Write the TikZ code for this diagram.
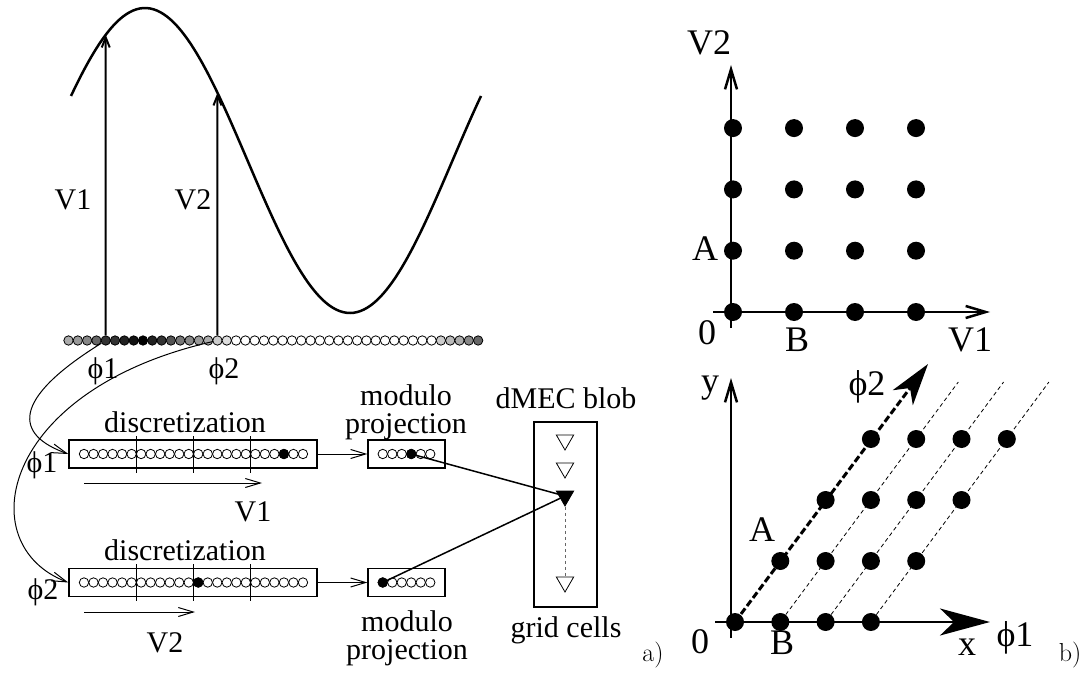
\documentclass[tikz,border=0pt]{standalone}
\usepackage{fontspec}
\newfontfamily\tms{Liberation Serif}
\usetikzlibrary{arrows.meta, shapes.geometric}

\begin{document}
\begin{tikzpicture}[x=1pt, y=-1pt,
  lbl/.style={font=\tms\fontsize{30}{28}\selectfont, inner sep=0pt, align=center},
  biglbl/.style={font=\tms\fontsize{36}{40}\selectfont, inner sep=0pt},
  tag/.style={font=\fontsize{26}{30}\selectfont, inner sep=0pt},
  bead/.style={circle, draw, line width=0.8pt, minimum size=9.4pt, inner sep=0pt, fill=white},
  dot/.style={circle, fill=black, minimum size=18pt, inner sep=0pt},
  segbox/.style={rectangle, draw, line width=1.3pt, inner sep=0pt, minimum height=28pt},
  tri/.style={regular polygon, regular polygon sides=3, shape border rotate=180,
    draw, line width=0.8pt, minimum size=20pt, inner sep=0pt},
  arr/.style={-{Straight Barb[length=15pt, width=9pt]}, line width=1pt},
  varr/.style={-{Straight Barb[length=10pt, width=8pt]}, line width=2pt},
  axarr/.style={-{Straight Barb[length=20pt, width=12pt]}, line width=2.5pt},
  bigarr/.style={-{Stealth[length=50pt, width=27pt, inset=14pt]}, line width=2.5pt}
]
\useasboundingbox (0,0) rectangle (1081,679);

% a) tuning curve and phase beads
\draw[line width=2.5pt] plot[domain=71:481, samples=120, smooth]
  (\x, {160.5-152.5*cos((\x-145)/410*360)});
\foreach \i/\g in {0/33,1/40,2/47,3/60,4/80,5/80,6/87,7/93,8/100,9/87,10/80,11/67,
    12/53,13/47,14/40,15/33,16/20,17/13,40/20,41/27,42/33,43/47,44/60}
  \node[bead, fill=black!\g] (b\i) at ({68.5+\i*9.31}, 340.5) {};
\foreach \i in {18,...,39}
  \node[bead] (b\i) at ({68.5+\i*9.31}, 340.5) {};
\coordinate (s1) at (105.74, {160.5-152.5*cos((105.74-145)/410*360)});
\coordinate (s2) at (217.46, {160.5-152.5*cos((217.46-145)/410*360)});
\draw[varr] (b4) -- (s1);
\draw[varr] (b16) -- (s2);
\node[lbl] (v1) at (73,200) {V1};
\node[lbl] (v2) at (193,200) {V2};
\node[lbl] (f1) at (103,371) {ϕ1};
\node[lbl] (f2) at (224,371) {ϕ2};

% discretization
\node[segbox, minimum width=248pt] (disc1) at (193,454) {};
\node[segbox, minimum width=248pt] (disc2) at (193,582.5) {};
\foreach \i in {0,...,23} {
  \node[bead] (p\i) at ({84+\i*9.52},454) {};
  \node[bead] (q\i) at ({84+\i*9.52},582.5) {};
}
\node[bead, fill=black] (pf) at (p21) {};
\node[bead, fill=black] (qf) at (q12) {};
\foreach \k in {1,2,3} {
  \draw[line width=0.8pt] ({84+(6*\k-0.5)*9.52},436) -- ++(0,37);
  \draw[line width=0.8pt] ({84+(6*\k-0.5)*9.52},564) -- ++(0,37);
}
\node[lbl] (dl1) at (185,422) {discretization};
\node[lbl] (dl2) at (185,550) {discretization};
\node[lbl] (g1) at (42,465) {ϕ1};
\node[lbl] (g2) at (43,592) {ϕ2};
\draw[arr] (b4) .. controls (10,400) and (15,435) .. (disc1.west);
\draw[arr] (b16) .. controls (0,390) and (-30,545) .. (disc2.west);

\coordinate (r1a) at (84,483);  \coordinate (r1b) at (262,483);
\coordinate (r2a) at (84,612);  \coordinate (r2b) at (195,612);
\draw[arr] (r1a) -- (r1b);
\draw[arr] (r2a) -- (r2b);
\node[lbl] (sv1) at (253,512) {V1};
\node[lbl] (sv2) at (165,643) {V2};

% modulo projection
\node[segbox, minimum width=77pt] (mod1) at (406.5,454) {};
\node[segbox, minimum width=77pt] (mod2) at (406.5,582.5) {};
\foreach \i in {0,...,5} {
  \node[bead] (m\i) at ({382.75+\i*9.5},454) {};
  \node[bead] (n\i) at ({382.75+\i*9.5},582.5) {};
}
\node[bead, fill=black] (mf) at (m3) {};
\node[bead, fill=black] (nf) at (n0) {};
\draw[arr] (disc1) -- (mod1);
\draw[arr] (disc2) -- (mod2);
\node[lbl] (ml1) at (406,412) {modulo\\projection};
\node[lbl] (ml2) at (407,638) {modulo\\projection};

% dMEC blob
\node[segbox, minimum width=63pt, minimum height=185pt] (blob) at (565.5,514.5) {};
\node[tri] (t1) at (565,440) {};
\node[tri] (t2) at (565,468) {};
\node[tri, fill=black] (t3) at (565,496) {};
\node[tri] (t4) at (565,582) {};
\draw[dashed, line width=0.5pt, black!60] (t3) -- (t4);
\draw[line width=1.5pt] (mf.center) -- (t3.center);
\draw[line width=1.5pt] (nf.center) -- (t3.center);
\node[lbl] (bl) at (566,398) {dMEC blob};
\node[lbl] (gc) at (566,630) {grid cells};
\node[tag] (ta) at (653,655) {a)};

% b) velocity lattice
\coordinate (ua) at (731,328);  \coordinate (ub) at (731,65);
\coordinate (uc) at (713,312);  \coordinate (ud) at (990,312);
\draw[axarr] (ua) -- (ub);
\draw[axarr] (uc) -- (ud);
\foreach \r in {0,...,3}
  \foreach \c in {0,...,3}
    \node[dot] (u\r\c) at ({733+61*\c},{312-61.3*\r}) {};
\node[biglbl] (uv2) at (709,43) {V2};
\node[biglbl] (uA) at (705,249) {A};
\node[biglbl] (u0) at (707,333) {0};
\node[biglbl] (uB) at (797,340) {B};
\node[biglbl] (uv1) at (970,340) {V1};

% b) phase lattice
\coordinate (wa) at (731,638);  \coordinate (wb) at (731,378);
\coordinate (wc) at (715,622);  \coordinate (wd) at (990,622);
\draw[axarr] (wa) -- (wb);
\draw[bigarr] (wc) -- (wd);
\foreach \r in {0,...,3}
  \foreach \c in {0,...,3}
    \node[dot] (w\r\c) at ({735+45.3*(\r+\c)},{622-61*\r}) {};
\foreach \c in {1,2,3} {
  \coordinate (e\c) at ({735+45.3*\c+178},382);
  \draw[line width=0.8pt, dash pattern=on 4pt off 3pt] (w0\c) -- (e\c);
}
\coordinate (ptip) at (928,364);
\draw[-{Stealth[length=42pt, width=25pt, inset=12pt]}, line width=3pt,
  dash pattern=on 7pt off 3pt] (w00.center) -- (ptip);
\node[biglbl] (wy) at (710,388) {y};
\node[biglbl] (wf2) at (867,387) {ϕ2};
\node[biglbl] (wA) at (762,530) {A};
\node[biglbl] (w0) at (700,642) {0};
\node[biglbl] (wB) at (782,643) {B};
\node[biglbl] (wx) at (967,647) {x};
\node[biglbl] (wf1) at (1015,638) {ϕ1};
\node[tag] (tb) at (1070,655) {b)};
\end{tikzpicture}
\end{document}
